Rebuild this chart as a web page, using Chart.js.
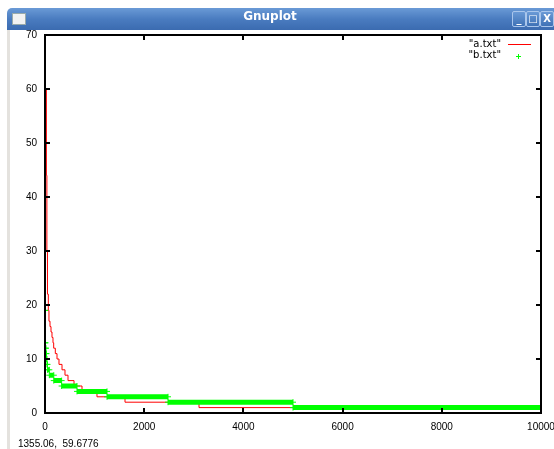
<!DOCTYPE html>
<html>
<head>
<meta charset="utf-8">
<title>Gnuplot</title>
<script src="https://cdn.jsdelivr.net/npm/chart.js@4.4.1/dist/chart.umd.min.js"></script>
<style>
  html, body { margin: 0; padding: 0; background: #fff; }
  body { width: 554px; height: 449px; position: relative; overflow: hidden; font-family: 'Liberation Sans', Arial, sans-serif; }
  #border { position: absolute; left: 7px; top: 20px; width: 3px; height: 429px; background: #e4e2de; }
  #chart { position: absolute; left: 0; top: 0; }
  #titlebar { position: absolute; left: 7px; top: 8px; width: 560px; height: 22px; border-radius: 5px 5px 0 0;
    background: linear-gradient(#6a9ad6, #4a7cc0 50%, #3b6bb0); }
  #title { position: absolute; left: 193px; width: 140px; top: 1px; line-height: 22px; text-align: center;
    color: #fff; font: bold 12px 'DejaVu Sans', sans-serif; }
  #icon { position: absolute; left: 5px; top: 5px; width: 12px; height: 10px; background: #f2f2f2; border: 1px solid #9aa; }
  .btn { position: absolute; top: 3px; width: 12px; height: 14px; border: 1px solid #a9c6ec; border-radius: 2px;
    background: linear-gradient(#6a9ad6, #3f72b6); color: #fff; font: bold 10px 'DejaVu Sans', sans-serif; text-align: center; line-height: 14px; }
  #status { position: absolute; left: 18px; top: 438px; font-size: 10px; color: #000; white-space: pre; }
</style>
</head>
<body>
<div id="border"></div>
<canvas id="chart" width="554" height="449"></canvas>
<div id="titlebar">
  <div id="icon"></div>
  <div id="title">Gnuplot</div>
  <div class="btn" style="left:505px">_</div>
  <div class="btn" style="left:519px">&#9633;</div>
  <div class="btn" style="left:533px">X</div>
</div>
<div id="status">1355.06,  59.6776</div>
<script>
// "a.txt": start rank of each count level (red line)
const aRank = [1, 28, 38, 50, 67, 80, 101, 121, 141, 161, 175, 208, 242, 282, 343, 403, 464, 585, 746, 1048, 1613, 3105, 5000]
const aCount = [60, 44, 30, 22, 19, 17, 16, 15, 14, 13, 12, 11, 10, 9, 8, 7, 6, 5, 4, 3, 2, 1, 1]

// "b.txt": rank range of each count level (green points)
const bStart = [1, 2, 10, 20, 30, 40, 50, 87, 177, 335, 645, 1250, 2480, 5000]
const bEnd = [1, 10, 20, 30, 40, 50, 87, 177, 335, 645, 1250, 2480, 5000, 10000]
const bCount = [19, 13, 12, 11, 10, 9, 8, 7, 6, 5, 4, 3, 2, 1]

const xTicks = [0, 2000, 4000, 6000, 8000, 10000]
const yTicks = [0, 10, 20, 30, 40, 50, 60, 70]

const aPoints = aRank.map((r, i) => ({ x: r, y: aCount[i] }))
const bPoints = []
bCount.forEach((v, i) => {
  bPoints.push({ x: bStart[i], y: v }, { x: bEnd[i], y: v })
  if (i < bCount.length - 1) bPoints.push({ x: bEnd[i], y: null })
})

const tickFont = { family: "'Liberation Sans', Arial, sans-serif", size: 10 }

// gnuplot style frame, inward ticks and key
const gnuFrame = {
  id: 'gnuFrame',
  afterDraw(chart) {
    const ctx = chart.ctx
    const a = chart.chartArea
    const xs = chart.scales.x
    const ys = chart.scales.y
    ctx.save()
    ctx.strokeStyle = '#000'
    ctx.lineWidth = 2
    ctx.strokeRect(a.left, a.top, a.right - a.left, a.bottom - a.top)
    ctx.beginPath()
    xTicks.forEach(t => {
      const px = Math.round(xs.getPixelForValue(t))
      ctx.moveTo(px, a.bottom); ctx.lineTo(px, a.bottom - 5)
      ctx.moveTo(px, a.top); ctx.lineTo(px, a.top + 5)
    })
    yTicks.forEach(t => {
      const py = Math.round(ys.getPixelForValue(t))
      ctx.moveTo(a.left, py); ctx.lineTo(a.left + 5, py)
      ctx.moveTo(a.right, py); ctx.lineTo(a.right - 5, py)
    })
    ctx.stroke()

    // key
    ctx.font = "10px 'DejaVu Sans', sans-serif"
    ctx.fillStyle = '#000'
    ctx.textAlign = 'right'
    ctx.textBaseline = 'middle'
    ctx.fillText('"a.txt"', a.right - 40, a.top + 9)
    ctx.fillText('"b.txt"', a.right - 40, a.top + 20)
    ctx.strokeStyle = '#ff0000'
    ctx.lineWidth = 1
    ctx.beginPath()
    ctx.moveTo(a.right - 33, a.top + 9.5); ctx.lineTo(a.right - 10, a.top + 9.5)
    ctx.stroke()
    ctx.strokeStyle = '#00ff00'
    ctx.beginPath()
    ctx.moveTo(a.right - 25, a.top + 21.5); ctx.lineTo(a.right - 20, a.top + 21.5)
    ctx.moveTo(a.right - 22.5, a.top + 19); ctx.lineTo(a.right - 22.5, a.top + 24)
    ctx.stroke()
    ctx.restore()
  }
}

new Chart(document.getElementById('chart'), {
  type: 'scatter',
  data: {
    datasets: [
      {
        label: '"a.txt"',
        data: aPoints,
        showLine: true,
        stepped: 'before',
        borderColor: '#ff0000',
        borderWidth: 1,
        pointRadius: 0,
        order: 1,
      },
      {
        label: '"b.txt"',
        data: bPoints,
        showLine: true,
        spanGaps: false,
        borderColor: '#00ff00',
        borderWidth: 5,
        borderCapStyle: 'butt',
        pointStyle: 'cross',
        pointRadius: 3,
        pointBorderWidth: 1,
        pointBorderColor: '#00ff00',
        pointBackgroundColor: '#00ff00',
        order: 0,
      },
    ],
  },
  options: {
    responsive: false,
    animation: false,
    devicePixelRatio: 1,
    layout: { padding: { left: 0, top: 35, right: 13, bottom: 0 } },
    plugins: { legend: { display: false }, tooltip: { enabled: false } },
    scales: {
      x: {
        type: 'linear',
        min: 0,
        max: 10000,
        afterBuildTicks: (s) => { s.ticks = xTicks.map(v => ({ value: v })) },
        ticks: { font: tickFont, color: '#000', padding: 8, maxRotation: 0, autoSkip: false,
          callback: (v) => String(v) },
        grid: { display: false, drawTicks: false },
        border: { display: false },
        afterFit: (s) => { s.height = 36; s.paddingLeft = 0; s.paddingRight = 0 },
      },
      y: {
        min: 0,
        max: 70,
        afterBuildTicks: (s) => { s.ticks = yTicks.map(v => ({ value: v })) },
        ticks: { font: tickFont, color: '#000', padding: 8, callback: (v) => String(v) },
        grid: { display: false, drawTicks: false },
        border: { display: false },
        afterFit: (s) => { s.width = 45 },
      },
    },
  },
  plugins: [gnuFrame],
})
</script>
</body>
</html>
